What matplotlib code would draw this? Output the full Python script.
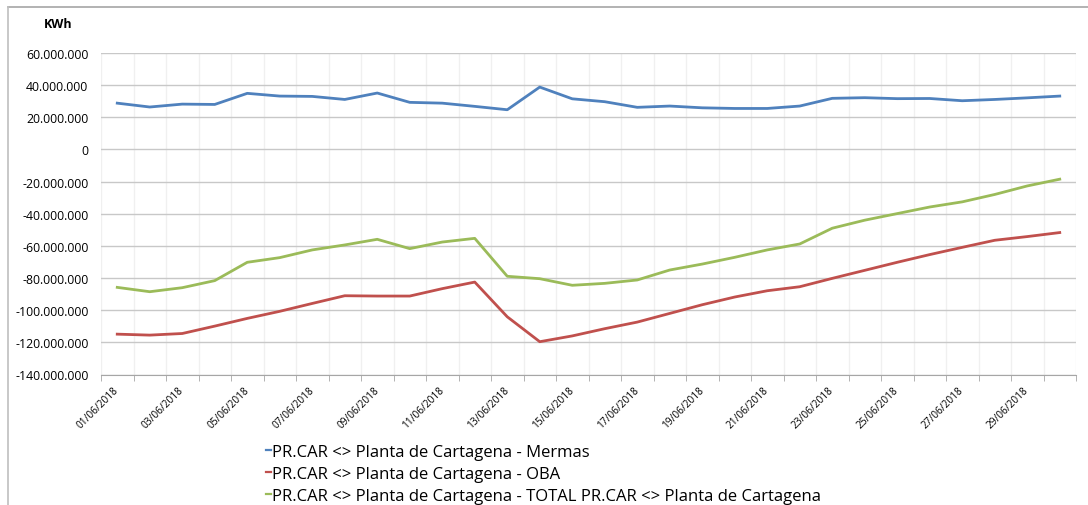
import matplotlib
matplotlib.use('Agg')
import matplotlib.pyplot as plt
from matplotlib.lines import Line2D
from matplotlib.ticker import FuncFormatter
import numpy as np

# Fechas (junio 2018) y series en kWh
fechas = ["%02d/06/2018" % d for d in range(1, 31)]

mermas = [28.8, 26.4, 28.2, 28.0, 34.9, 33.2, 33.0, 31.1, 35.1, 29.3,
          28.8, 26.8, 24.7, 38.8, 31.5, 29.7, 26.2, 27.0, 25.9, 25.5,
          25.5, 27.0, 31.8, 32.2, 31.6, 31.7, 30.3, 31.1, 32.1, 33.2]
oba = [-114.9, -115.5, -114.5, -109.9, -105.1, -100.7, -95.8, -91.0, -91.2, -91.2,
       -86.6, -82.5, -104.1, -119.6, -116.0, -111.5, -107.4, -102.0, -96.6, -91.8,
       -87.9, -85.4, -80.2, -75.2, -70.2, -65.4, -60.9, -56.5, -54.2, -51.7]
total = [-85.8, -88.5, -86.0, -81.6, -70.2, -67.3, -62.5, -59.4, -55.9, -61.7,
         -57.6, -55.3, -78.9, -80.4, -84.5, -83.3, -81.2, -75.0, -71.3, -67.1,
         -62.5, -58.8, -49.0, -44.0, -39.9, -35.8, -32.6, -28.0, -22.7, -18.5]

series = [
    ("PR.CAR <> Planta de Cartagena - Mermas", mermas, "#4F81BD"),
    ("PR.CAR <> Planta de Cartagena - OBA", oba, "#C0504D"),
    ("PR.CAR <> Planta de Cartagena - TOTAL PR.CAR <> Planta de Cartagena", total, "#9BBB59"),
]

plt.rcParams['font.family'] = ['Open Sans', 'DejaVu Sans']

fig = plt.figure(figsize=(10.88, 5.06), dpi=100)
ax = fig.add_axes([101 / 1088, 1 - 375.5 / 506, 975 / 1088, 321.5 / 506])

x = np.arange(len(fechas))
for nombre, valores, color in series:
    ax.plot(x, np.array(valores) * 1e6, color=color, lw=2.0, label=nombre,
            solid_joinstyle='round', zorder=3)

ax.set_xlim(-0.5, len(fechas) - 0.5)
ax.set_ylim(-140e6, 60e6)
ax.set_yticks(np.arange(-140e6, 60e6 + 1, 20e6))
ax.yaxis.set_major_formatter(FuncFormatter(
    lambda v, p: "{:,.0f}".format(v).replace(",", ".")))

# etiquetas cada dos días, líneas de división entre categorías
ax.set_xticks(x[::2])
ax.set_xticklabels(fechas[::2], rotation=45, ha='right', va='center',
                   rotation_mode='anchor', fontsize=7.3)
ax.set_xticks(np.arange(-0.5, len(fechas)), minor=True)
ax.tick_params(axis='x', which='major', length=0, pad=10)
ax.tick_params(axis='x', which='minor', length=4, color='#a6a6a6', direction='out')
ax.tick_params(axis='y', length=0, labelsize=8.8, pad=9)

ax.grid(axis='y', color='#c8c8c8', lw=1.0, zorder=0)
ax.grid(axis='x', which='minor', color='#f0f0f0', lw=1.0, zorder=0)
ax.set_axisbelow(True)
for s in ['top', 'right', 'left']:
    ax.spines[s].set_visible(False)
ax.spines['bottom'].set_color('#a6a6a6')

fig.text(44 / 1088, 1 - 25 / 506, "KWh", fontsize=9, fontweight='bold',
         va='center', ha='left')

# marco del gráfico
fig.add_artist(Line2D([8 / 1088, 1], [1 - 8 / 506] * 2, color='#a6a6a6', lw=1.2))
fig.add_artist(Line2D([8 / 1088] * 2, [0, 1 - 8 / 506], color='#bfbfbf', lw=1.2))

leg = fig.legend(loc='upper left', bbox_to_anchor=(266 / 1088, 1 - 445 / 506),
                 frameon=False, fontsize=12, handlelength=0.3, handletextpad=0.05,
                 labelspacing=0.36, borderpad=0, borderaxespad=0)
for h in leg.legend_handles:
    h.set_linewidth(1.6)

fig.savefig("out.png", dpi=100)
